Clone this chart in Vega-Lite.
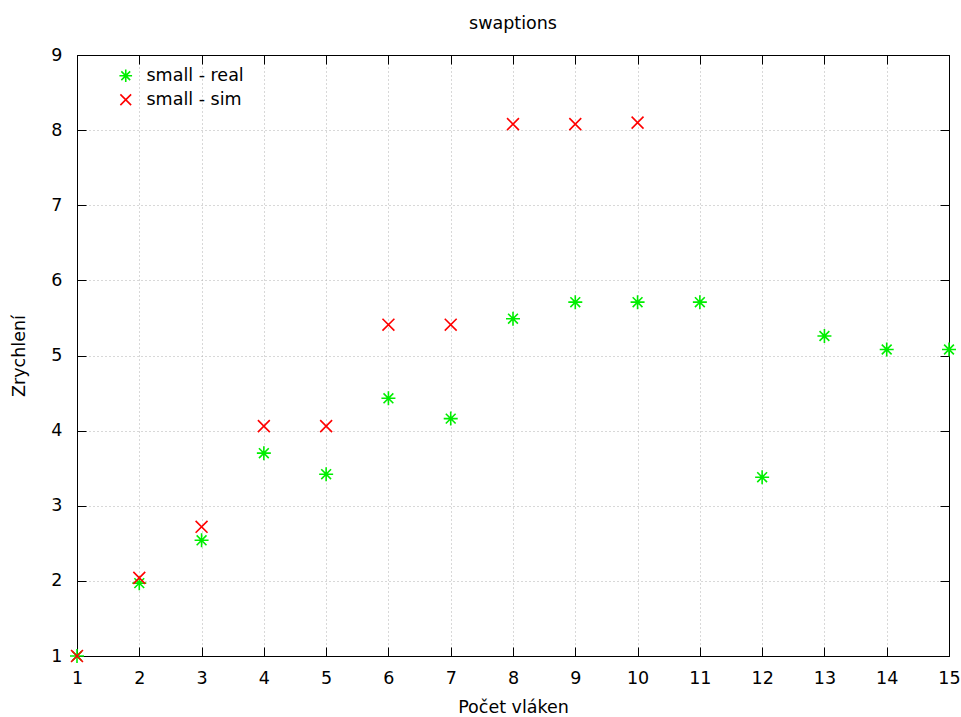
{
  "$schema": "https://vega.github.io/schema/vega-lite/v6.json",
  "width": 872,
  "height": 601,
  "autosize": {"type": "none"},
  "padding": {"left": 77, "top": 55, "right": 12, "bottom": 61},
  "background": "white",
  "title": {"text": "swaptions", "font": "DejaVu Sans", "fontSize": 17.5, "fontWeight": "normal", "color": "#000", "offset": 14},
  "config": {
    "view": {"stroke": "#000", "strokeWidth": 1},
    "axis": {
      "labelFont": "DejaVu Sans", "labelFontSize": 17.5, "labelColor": "#000", "labelFlush": false,
      "titleFont": "DejaVu Sans", "titleFontSize": 17.5, "titleFontWeight": "normal", "titleColor": "#000",
      "domainColor": "#000", "tickColor": "#000", "tickSize": -9,
      "gridColor": "#b0b0b0", "gridDash": [1, 3], "gridWidth": 1
    }
  },
  "data": {"values": [
    {"x": 1, "y": 1.0, "series": "small - real"},
    {"x": 2, "y": 1.97, "series": "small - real"},
    {"x": 3, "y": 2.54, "series": "small - real"},
    {"x": 4, "y": 3.70, "series": "small - real"},
    {"x": 5, "y": 3.42, "series": "small - real"},
    {"x": 6, "y": 4.43, "series": "small - real"},
    {"x": 7, "y": 4.16, "series": "small - real"},
    {"x": 8, "y": 5.49, "series": "small - real"},
    {"x": 9, "y": 5.71, "series": "small - real"},
    {"x": 10, "y": 5.71, "series": "small - real"},
    {"x": 11, "y": 5.71, "series": "small - real"},
    {"x": 12, "y": 3.38, "series": "small - real"},
    {"x": 13, "y": 5.26, "series": "small - real"},
    {"x": 14, "y": 5.08, "series": "small - real"},
    {"x": 15, "y": 5.08, "series": "small - real"},
    {"x": 1, "y": 1.0, "series": "small - sim"},
    {"x": 2, "y": 2.04, "series": "small - sim"},
    {"x": 3, "y": 2.72, "series": "small - sim"},
    {"x": 4, "y": 4.06, "series": "small - sim"},
    {"x": 5, "y": 4.06, "series": "small - sim"},
    {"x": 6, "y": 5.41, "series": "small - sim"},
    {"x": 7, "y": 5.41, "series": "small - sim"},
    {"x": 8, "y": 8.08, "series": "small - sim"},
    {"x": 9, "y": 8.08, "series": "small - sim"},
    {"x": 10, "y": 8.10, "series": "small - sim"}
  ]},
  "layer": [
    {
      "mark": {"type": "point", "filled": false, "strokeWidth": 1.6, "size": 196, "opacity": 1},
      "encoding": {
        "x": {"field": "x", "type": "quantitative", "title": "Počet vláken",
              "scale": {"domain": [1, 15], "nice": false, "zero": false},
              "axis": {"values": [1,2,3,4,5,6,7,8,9,10,11,12,13,14,15], "labelPadding": 22, "titlePadding": 12, "grid": true}},
        "y": {"field": "y", "type": "quantitative", "title": "Zrychlení",
              "scale": {"domain": [1, 9], "nice": false, "zero": false},
              "axis": {"values": [1,2,3,4,5,6,7,8,9], "labelPadding": 24, "titlePadding": 22, "grid": true}},
        "color": {"field": "series", "type": "nominal",
                  "scale": {"domain": ["small - real", "small - sim"], "range": ["#00ee00", "#ff0000"]},
                  "legend": {"title": null, "orient": "none", "legendX": 40, "legendY": 12,
                             "labelFont": "DejaVu Sans", "labelFontSize": 17.5, "labelColor": "#000",
                             "symbolStrokeWidth": 1.6, "symbolSize": 160, "rowPadding": 4, "labelOffset": 12}},
        "shape": {"field": "series", "type": "nominal",
                  "scale": {"domain": ["small - real", "small - sim"],
                            "range": ["M-1,0L1,0M0,-1L0,1M-0.7,-0.7L0.7,0.7M-0.7,0.7L0.7,-0.7", "M-0.85,-0.85L0.85,0.85M-0.85,0.85L0.85,-0.85"]},
                  "legend": {"title": null, "orient": "none", "legendX": 40, "legendY": 12}}
      }
    },
    {
      "mark": {"type": "point", "opacity": 0},
      "encoding": {
        "x": {"field": "x", "type": "quantitative",
              "axis": {"orient": "top", "values": [1,2,3,4,5,6,7,8,9,10,11,12,13,14,15], "labels": false, "title": null, "grid": false}},
        "y": {"field": "y", "type": "quantitative",
              "axis": {"orient": "right", "values": [1,2,3,4,5,6,7,8,9], "labels": false, "title": null, "grid": false}}
      }
    }
  ],
  "resolve": {"axis": {"x": "independent", "y": "independent"}}
}
